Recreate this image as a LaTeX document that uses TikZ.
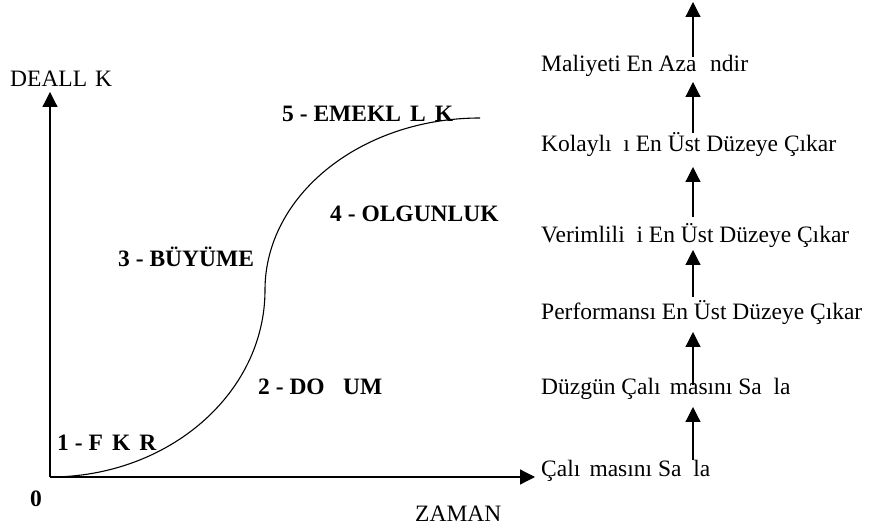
\documentclass[tikz,border=0pt]{standalone}
\usepackage{fontspec}
\setmainfont{Liberation Serif}
\usetikzlibrary{arrows.meta}
\begin{document}
\begin{tikzpicture}[x=1pt,y=1pt,
  lbl/.style={inner sep=0pt,anchor=base west,font=\fontsize{23.5}{28}\selectfont},
  phase/.style={lbl,font=\fontsize{23.5}{28}\selectfont\bfseries},
  arr/.style={line width=1.2pt,-{Triangle[width=15pt,length=15pt]}},
  curve/.style={line width=1.1pt}]
\useasboundingbox (0,0) rectangle (873,530);

% axes
\coordinate (O) at (50,53);
\coordinate (ytop) at (50,438);
\coordinate (xend) at (535,53);
\draw[arr] (O) -- (ytop);
\draw[arr] (O) -- (xend);

% axis labels
\node[lbl] (ylab) at (10,443) {DEALL\phantom{İ}K};
\node[lbl] (xlab) at (415,8) {ZAMAN};
\node[phase] (zero) at (30,23) {0};

% life-cycle curve: two quarter ellipses
\draw[curve] (O) arc[start angle=270,end angle=360,x radius=215,y radius=187]
  arc[start angle=180,end angle=90,x radius=215,y radius=172];

% phases
\node[phase] (p1) at (57,79) {1 - F\phantom{İ}K\phantom{İ}R};
\node[phase] (p2) at (258,135) {2 - DO\phantom{Ğ}UM};
\node[phase] (p3) at (118,263) {3 - BÜYÜME};
\node[phase] (p4) at (330,308) {4 - OLGUNLUK};
\node[phase] (p5) at (282,408) {5 - EMEKL\phantom{İ}L\phantom{İ}K};

% goal ladder
\node[lbl] (g6) at (541,458) {Maliyeti En Aza \phantom{İ}ndir};
\node[lbl] (g5) at (541,378) {Kolaylı\phantom{ğ}ı En Üst Düzeye Çıkar};
\node[lbl] (g4) at (541,287) {Verimlili\phantom{ğ}i En Üst Düzeye Çıkar};
\node[lbl] (g3) at (541,210) {Performansı En Üst Düzeye Çıkar};
\node[lbl] (g2) at (541,135) {Düzgün Çalı\phantom{ş}masını Sa\phantom{ğ}la};
\node[lbl] (g1) at (541,53) {Çalı\phantom{ş}masını Sa\phantom{ğ}la};

\coordinate (a1s) at (693,70);  \coordinate (a1e) at (693,123);
\coordinate (a2s) at (693,145); \coordinate (a2e) at (693,198);
\coordinate (a3s) at (693,233); \coordinate (a3e) at (693,280);
\coordinate (a4s) at (693,313); \coordinate (a4e) at (693,363);
\coordinate (a5s) at (693,397); \coordinate (a5e) at (693,448);
\coordinate (a6s) at (693,473); \coordinate (a6e) at (693,528);
\foreach \i in {1,...,6} \draw[arr] (a\i s) -- (a\i e);
\end{tikzpicture}
\end{document}
